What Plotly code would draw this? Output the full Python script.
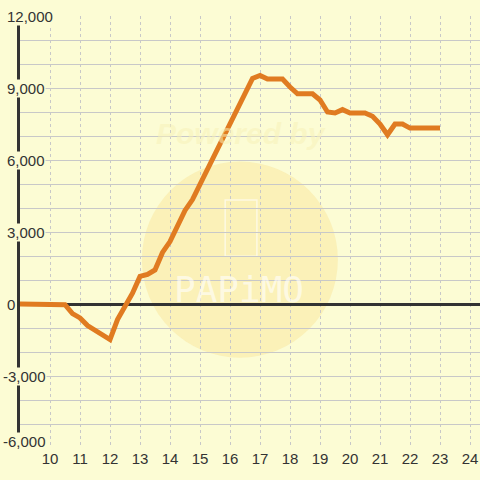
"""Cumulative line chart on a pale yellow board (hour axis 9-24)."""

import plotly.graph_objects as go

HOURS = [
    9.0, 9.25, 9.5, 9.75, 10.0, 10.25, 10.5, 10.75,
    11.0, 11.25, 11.5, 11.75, 12.0, 12.25, 12.5, 12.75,
    13.0, 13.25, 13.5, 13.75, 14.0, 14.25, 14.5, 14.75,
    15.0, 15.25, 15.5, 15.75, 16.0, 16.25, 16.5, 16.75,
    17.0, 17.25, 17.5, 17.75, 18.0, 18.25, 18.5, 18.75,
    19.0, 19.25, 19.5, 19.75, 20.0, 20.25, 20.5, 20.75,
    21.0, 21.25, 21.5, 21.75, 22.0, 22.25, 22.5, 22.75,
    23.0,
]
VALUES = [
    0, 0, 0, 0, 0, 0, -30, -400,
    -580, -900, -1100, -1300, -1480, -650, -100, 450,
    1150, 1230, 1420, 2150, 2600, 3300, 3900, 4350,
    4980, 5620, 6250, 6880, 7500, 8100, 8700, 9400,
    9520, 9370, 9370, 9370, 9040, 8760, 8760, 8760,
    8500, 8000, 7960, 8100, 7960, 7960, 7960, 7820,
    7500, 7050, 7500, 7500, 7330, 7330, 7330, 7330,
    7330,
]

X_TICKS = [10, 11, 12, 13, 14, 15, 16, 17, 18, 19, 20, 21, 22, 23, 24]
Y_TICKS = [-6000, -3000, 0, 3000, 6000, 9000, 12000]

BG = "#fcfcd4"
TEXT = "#333333"
GRID = "#c8c8c8"
LINE = "#e07b21"

fig = go.Figure()
fig.add_trace(
    go.Scatter(
        x=HOURS,
        y=VALUES,
        mode="lines",
        line=dict(color=LINE, width=5),
        hoverinfo="x+y",
    )
)

# 透かし（背景の丸とロゴ文字）
fig.add_shape(
    type="circle",
    xref="paper",
    yref="paper",
    x0=0.265,
    x1=0.691,
    y0=0.209,
    y1=0.663,
    fillcolor="rgba(250,230,155,0.5)",
    line=dict(width=0),
    layer="below",
)
fig.add_shape(
    type="rect",
    xref="paper",
    yref="paper",
    x0=0.446,
    x1=0.515,
    y0=0.444,
    y1=0.574,
    line=dict(color="rgba(255,255,255,0.6)", width=1.5),
    layer="below",
)
fig.add_annotation(
    text="<b><i>Powered by</i></b>",
    xref="paper",
    yref="paper",
    x=0.48,
    y=0.728,
    yanchor="middle",
    showarrow=False,
    font=dict(family="Liberation Sans", size=30, color="rgba(248,242,185,0.55)"),
)
fig.add_annotation(
    text="PAPiMO",
    xref="paper",
    yref="paper",
    x=0.476,
    y=0.368,
    yanchor="middle",
    showarrow=False,
    font=dict(family="DejaVu Sans Mono", size=36, color="rgba(255,255,255,0.6)"),
)

# y軸ラベル: 背景色の箱で軸線を隠す（最下段は少し上にずらす）
for v in Y_TICKS:
    fig.add_annotation(
        text=f"{v:,}",
        xref="paper",
        yref="y",
        x=0,
        y=v,
        xanchor="left",
        yanchor="middle",
        xshift=-18 if v < 0 else -14,
        yshift=7 if v == min(Y_TICKS) else 0,
        showarrow=False,
        bgcolor=BG,
        borderpad=0,
        font=dict(family="Liberation Sans", size=15, color=TEXT),
    )

fig.update_layout(
    width=480,
    height=480,
    margin=dict(l=20, r=0, t=16, b=32),
    paper_bgcolor=BG,
    plot_bgcolor=BG,
    showlegend=False,
    font=dict(family="Liberation Sans", size=15, color=TEXT),
)
fig.update_xaxes(
    range=[9, 24.333],
    tickvals=X_TICKS,
    ticktext=[str(t) for t in X_TICKS],
    showgrid=True,
    gridcolor=GRID,
    gridwidth=1,
    griddash="dot",
    zeroline=False,
    showline=False,
    ticks="",
    tickfont=dict(size=15, color=TEXT),
)
fig.update_yaxes(
    range=[-6000, 12000],
    dtick=1000,
    showticklabels=False,
    showgrid=True,
    gridcolor=GRID,
    gridwidth=1,
    zeroline=True,
    zerolinecolor=TEXT,
    zerolinewidth=3,
    showline=True,
    linecolor=TEXT,
    linewidth=3,
    ticks="",
)

# ページ既定の余白を消して図を窓の左上に合わせる
fig.write_html(
    "out.html",
    config={"displayModeBar": False},
    post_script="document.body.style.margin='0';document.body.style.background='%s';" % BG,
)
